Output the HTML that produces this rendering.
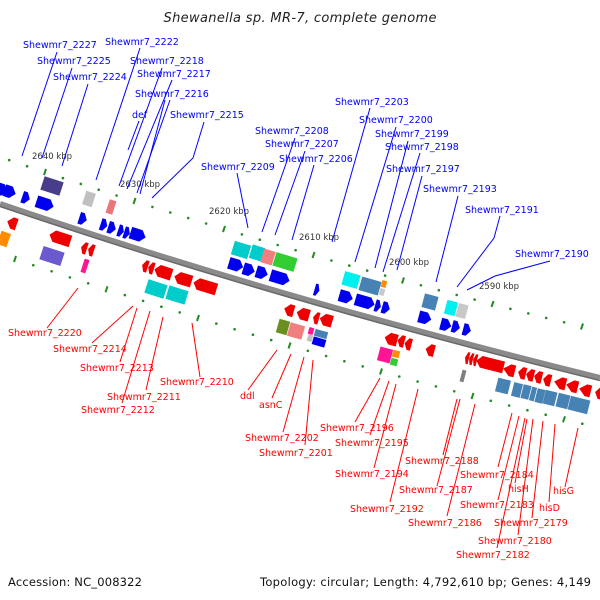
<!DOCTYPE html>
<html><head><meta charset="utf-8"><style>
html,body{margin:0;padding:0;background:#fff}
svg{display:block}
.lb{font-family:"DejaVu Sans","Liberation Sans",sans-serif;font-size:9.5px}
.b{fill:#0000ff}.r{fill:#ff0000}
.kb{font-family:"DejaVu Sans","Liberation Sans",sans-serif;font-size:8.5px;fill:#333}
.lnb{stroke:#0000ff;stroke-width:1;fill:none}
.lnr{stroke:#ff0000;stroke-width:1;fill:none}
.gb{fill:#0000ee}.gr{fill:#ee0000}
.d{fill:#228b22}.t{stroke:#228b22;stroke-width:2}
</style></head><body>
<svg width="600" height="600" viewBox="0 0 600 600" xmlns="http://www.w3.org/2000/svg">
<text x="300" y="22" text-anchor="middle" textLength="273" font-family="DejaVu Sans,Liberation Sans,sans-serif" font-style="italic" font-size="13" fill="#222">Shewanella sp. MR-7, complete genome</text>

<!-- backbone -->
<path d="M0,204 Q280,299 600,378" stroke="#8a8a8a" stroke-width="6" fill="none"/>
<path d="M0,206.5 Q280,301.5 600,380.5" stroke="#6a6a6a" stroke-width="1.5" fill="none"/>

<!-- above dots -->
<g class="d">
<circle cx="9.2" cy="160.1" r="1.3"/><circle cx="27.1" cy="166.2" r="1.3"/><circle cx="62.9" cy="178.1" r="1.3"/><circle cx="80.8" cy="183.9" r="1.3"/><circle cx="98.7" cy="189.7" r="1.3"/><circle cx="116.6" cy="195.5" r="1.3"/><circle cx="152.4" cy="206.9" r="1.3"/><circle cx="170.3" cy="212.5" r="1.3"/><circle cx="188.2" cy="218" r="1.3"/><circle cx="206.1" cy="223.5" r="1.3"/><circle cx="241.9" cy="234.4" r="1.3"/><circle cx="259.8" cy="239.7" r="1.3"/><circle cx="277.7" cy="245" r="1.3"/><circle cx="295.6" cy="250.2" r="1.3"/><circle cx="331.4" cy="260.5" r="1.3"/><circle cx="349.3" cy="265.6" r="1.3"/><circle cx="367.2" cy="270.6" r="1.3"/><circle cx="385.1" cy="275.6" r="1.3"/><circle cx="420.9" cy="285.3" r="1.3"/><circle cx="438.8" cy="290.2" r="1.3"/><circle cx="456.7" cy="294.9" r="1.3"/><circle cx="474.6" cy="299.6" r="1.3"/><circle cx="510.4" cy="308.8" r="1.3"/><circle cx="528.3" cy="313.4" r="1.3"/><circle cx="546.2" cy="317.9" r="1.3"/><circle cx="564.1" cy="322.3" r="1.3"/>
</g>
<g class="t">
<line x1="46" y1="169" x2="44" y2="175"/><line x1="135.5" y1="198" x2="133.5" y2="204"/><line x1="225" y1="226" x2="223" y2="232"/><line x1="314.5" y1="252" x2="312.5" y2="258"/><line x1="404" y1="277.5" x2="402" y2="283.5"/><line x1="493.5" y1="301" x2="491.5" y2="307"/><line x1="583" y1="323.5" x2="581" y2="329.5"/>
</g>
<!-- below dots -->
<g class="d">
<circle cx="33.3" cy="265.2" r="1.3"/><circle cx="51.6" cy="271.3" r="1.3"/><circle cx="69.9" cy="277.4" r="1.3"/><circle cx="88.2" cy="283.3" r="1.3"/><circle cx="124.8" cy="295.1" r="1.3"/><circle cx="143.1" cy="300.9" r="1.3"/><circle cx="161.4" cy="306.7" r="1.3"/><circle cx="179.7" cy="312.4" r="1.3"/><circle cx="216.3" cy="323.6" r="1.3"/><circle cx="234.6" cy="329.2" r="1.3"/><circle cx="252.9" cy="334.7" r="1.3"/><circle cx="271.2" cy="340.1" r="1.3"/><circle cx="307.8" cy="350.8" r="1.3"/><circle cx="326.1" cy="356" r="1.3"/><circle cx="344.4" cy="361.2" r="1.3"/><circle cx="362.7" cy="366.4" r="1.3"/><circle cx="399.3" cy="376.5" r="1.3"/><circle cx="417.6" cy="381.5" r="1.3"/><circle cx="435.9" cy="386.4" r="1.3"/><circle cx="454.2" cy="391.3" r="1.3"/><circle cx="490.8" cy="400.8" r="1.3"/><circle cx="509.1" cy="405.5" r="1.3"/><circle cx="527.4" cy="410.2" r="1.3"/><circle cx="545.7" cy="414.7" r="1.3"/><circle cx="582.3" cy="423.7" r="1.3"/>
</g>
<g class="t">
<line x1="16" y1="256" x2="14" y2="262"/><line x1="107.5" y1="286.3" x2="105.5" y2="292.3"/><line x1="199" y1="315" x2="197" y2="321"/><line x1="290.5" y1="342.5" x2="288.5" y2="348.5"/><line x1="382" y1="368.5" x2="380" y2="374.5"/><line x1="473.5" y1="393" x2="471.5" y2="399"/><line x1="565" y1="416.3" x2="563" y2="422.3"/>
</g>

<!-- kbp labels -->
<text class="kb" x="32" y="159">2640 kbp</text>
<text class="kb" x="120" y="187">2630 kbp</text>
<text class="kb" x="209" y="214">2620 kbp</text>
<text class="kb" x="299" y="240">2610 kbp</text>
<text class="kb" x="389" y="265">2600 kbp</text>
<text class="kb" x="479" y="289">2590 kbp</text>

<!-- blue forward arrows -->
<g class="gb">
<polygon transform="translate(3,190) rotate(19)" points="-5,-6 0,-6 5,0 0,6 -5,6"/>
<polygon transform="translate(10,192) rotate(19)" points="-6,-6 1,-6 6,0 1,6 -6,6"/>
<polygon transform="translate(26,198) rotate(19)" points="-4,-6 0,-6 4,0 0,6 -4,6"/>
<polygon transform="translate(45,204) rotate(18)" points="-9,-6 4,-6 9,0 4,6 -9,6"/>
<polygon transform="translate(83,219) rotate(18)" points="-4,-6 0,-6 4,0 0,6 -4,6"/>
<polygon transform="translate(104,225) rotate(18)" points="-3.5,-6 0,-6 3.5,0 0,6 -3.5,6"/>
<polygon transform="translate(112,228) rotate(18)" points="-4,-6 0,-6 4,0 0,6 -4,6"/>
<polygon transform="translate(121,231) rotate(18)" points="-3,-6 0,-6 3,0 0,6 -3,6"/>
<polygon transform="translate(127,233) rotate(18)" points="-3,-6 0,-6 3,0 0,6 -3,6"/>
<polygon transform="translate(138,235) rotate(18)" points="-8,-6 3,-6 8,0 3,6 -8,6"/>
<polygon transform="translate(236,265) rotate(17)" points="-7.5,-6 2.5,-6 7.5,0 2.5,6 -7.5,6"/>
<polygon transform="translate(249,270) rotate(17)" points="-6,-6 1,-6 6,0 1,6 -6,6"/>
<polygon transform="translate(262,273) rotate(17)" points="-6,-6 1,-6 6,0 1,6 -6,6"/>
<polygon transform="translate(280,278) rotate(17)" points="-10,-6 5,-6 10,0 5,6 -10,6"/>
<polygon transform="translate(317,290) rotate(16)" points="-2.5,-6 0,-6 2.5,0 0,6 -2.5,6"/>
<polygon transform="translate(346,297) rotate(16)" points="-7,-6 2,-6 7,0 2,6 -7,6"/>
<polygon transform="translate(365,302) rotate(16)" points="-10,-6 5,-6 10,0 5,6 -10,6"/>
<polygon transform="translate(378,306) rotate(16)" points="-3,-6 0,-6 3,0 0,6 -3,6"/>
<polygon transform="translate(386,308) rotate(16)" points="-4,-6 0,-6 4,0 0,6 -4,6"/>
<polygon transform="translate(425,318) rotate(15)" points="-6.5,-6 1.5,-6 6.5,0 1.5,6 -6.5,6"/>
<polygon transform="translate(446,325) rotate(15)" points="-5.5,-6 0.5,-6 5.5,0 0.5,6 -5.5,6"/>
<polygon transform="translate(456,327) rotate(15)" points="-4,-6 0,-6 4,0 0,6 -4,6"/>
<polygon transform="translate(467,330) rotate(15)" points="-4,-6 0,-6 4,0 0,6 -4,6"/>
</g>

<!-- top boxes -->
<g>
<rect transform="translate(52,186) rotate(18)" x="-10" y="-7" width="20" height="14" fill="#483d8b"/>
<rect transform="translate(89,199) rotate(18)" x="-5" y="-7" width="10" height="14" fill="#c0c0c0"/>
<rect transform="translate(111,207) rotate(18)" x="-3.5" y="-7" width="7" height="14" fill="#e9777a"/>
<rect transform="translate(241,250) rotate(17)" x="-8.5" y="-7" width="17" height="14" fill="#00cccc"/>
<rect transform="translate(257,253) rotate(17)" x="-6.5" y="-7" width="13" height="14" fill="#00cccc"/>
<rect transform="translate(268,257) rotate(17)" x="-6" y="-7" width="12" height="14" fill="#f08080"/>
<rect transform="translate(285,262) rotate(17)" x="-11" y="-7" width="22" height="14" fill="#32cd32"/>
<rect transform="translate(351,280) rotate(16)" x="-8" y="-7" width="16" height="14" fill="#00f0f0"/>
<rect transform="translate(370,286) rotate(16)" x="-10" y="-7" width="20" height="14" fill="#4682b4"/>
<rect transform="translate(384,284) rotate(16)" x="-2.5" y="-3.5" width="5" height="7" fill="#ff8c00"/>
<rect transform="translate(382,292) rotate(16)" x="-2.5" y="-3.5" width="5" height="7" fill="#c8c8c8"/>
<rect transform="translate(430,302) rotate(15)" x="-7" y="-7" width="14" height="14" fill="#4682b4"/>
<rect transform="translate(451,308) rotate(15)" x="-5.5" y="-7" width="11" height="14" fill="#00f0f0"/>
<rect transform="translate(462,311) rotate(15)" x="-5" y="-7" width="10" height="14" fill="#c8c8c8"/>
</g>

<!-- red reverse arrows -->
<g class="gr">
<polygon transform="translate(12,223) rotate(19)" points="5,-6 0,-6 -5,0 0,6 5,6"/>
<polygon transform="translate(60,238) rotate(18)" points="11,-6 -6,-6 -11,0 -6,6 11,6"/>
<polygon transform="translate(84,248) rotate(18)" points="3,-6 0,-6 -3,0 0,6 3,6"/>
<polygon transform="translate(91,250) rotate(18)" points="3,-6 0,-6 -3,0 0,6 3,6"/>
<polygon transform="translate(145,266) rotate(18)" points="3,-6 0,-6 -3,0 0,6 3,6"/>
<polygon transform="translate(151,268) rotate(18)" points="3,-6 0,-6 -3,0 0,6 3,6"/>
<polygon transform="translate(163,272) rotate(18)" points="9,-6 -4,-6 -9,0 -4,6 9,6"/>
<polygon transform="translate(183,279) rotate(17)" points="9,-6 -4,-6 -9,0 -4,6 9,6"/>
<polygon transform="translate(205,286) rotate(17)" points="12,-6 -7,-6 -12,0 -7,6 12,6"/>
<polygon transform="translate(289,310) rotate(16)" points="5,-6 0,-6 -5,0 0,6 5,6"/>
<polygon transform="translate(303,314) rotate(16)" points="6.5,-6 -1.5,-6 -6.5,0 -1.5,6 6.5,6"/>
<polygon transform="translate(316,318) rotate(16)" points="3,-6 0,-6 -3,0 0,6 3,6"/>
<polygon transform="translate(326,320) rotate(16)" points="6.5,-6 -1.5,-6 -6.5,0 -1.5,6 6.5,6"/>
<polygon transform="translate(391,339) rotate(15)" points="6.5,-6 -1.5,-6 -6.5,0 -1.5,6 6.5,6"/>
<polygon transform="translate(401,341) rotate(15)" points="3.5,-6 0,-6 -3.5,0 0,6 3.5,6"/>
<polygon transform="translate(408,344) rotate(15)" points="3.5,-6 0,-6 -3.5,0 0,6 3.5,6"/>
<polygon transform="translate(430,350) rotate(15)" points="4.5,-6 0,-6 -4.5,0 0,6 4.5,6"/>
<polygon transform="translate(467,358) rotate(14)" points="2,-6 0,-6 -2,0 0,6 2,6"/>
<polygon transform="translate(471,359) rotate(14)" points="2,-6 0,-6 -2,0 0,6 2,6"/>
<polygon transform="translate(475,360) rotate(14)" points="2,-6 0,-6 -2,0 0,6 2,6"/>
<polygon transform="translate(490,364) rotate(14)" points="14,-6 -9,-6 -14,0 -9,6 14,6"/>
<polygon transform="translate(509,370) rotate(14)" points="6,-6 1,-6 -6,0 1,6 6,6"/>
<polygon transform="translate(522,373) rotate(14)" points="4,-6 0,-6 -4,0 0,6 4,6"/>
<polygon transform="translate(530,375) rotate(14)" points="4,-6 0,-6 -4,0 0,6 4,6"/>
<polygon transform="translate(538,377) rotate(14)" points="4,-6 0,-6 -4,0 0,6 4,6"/>
<polygon transform="translate(547,380) rotate(14)" points="4,-6 0,-6 -4,0 0,6 4,6"/>
<polygon transform="translate(560,383) rotate(14)" points="6,-6 1,-6 -6,0 1,6 6,6"/>
<polygon transform="translate(572,386) rotate(14)" points="6,-6 1,-6 -6,0 1,6 6,6"/>
<polygon transform="translate(585,390) rotate(14)" points="6,-6 1,-6 -6,0 1,6 6,6"/>
<polygon transform="translate(599,393) rotate(14)" points="4,-6 0,-6 -4,0 0,6 4,6"/>
</g>

<!-- bottom boxes -->
<g>
<rect transform="translate(4,239) rotate(19)" x="-5" y="-7" width="10" height="14" fill="#ff8c00"/>
<rect transform="translate(52,256) rotate(18)" x="-11" y="-7" width="22" height="14" fill="#6a5acd"/>
<rect transform="translate(85,266) rotate(18)" x="-2.5" y="-7" width="5" height="14" fill="#ff1493"/>
<rect transform="translate(156,289) rotate(18)" x="-10" y="-7" width="20" height="14" fill="#00cccc"/>
<rect transform="translate(177,295) rotate(17)" x="-10" y="-7" width="20" height="14" fill="#00cccc"/>
<rect transform="translate(283,327) rotate(16)" x="-5.5" y="-7" width="11" height="14" fill="#6b8e23"/>
<rect transform="translate(296,331) rotate(16)" x="-7.5" y="-7" width="15" height="14" fill="#f08080"/>
<rect transform="translate(311,331) rotate(16)" x="-2.5" y="-3.5" width="5" height="7" fill="#ff1493"/>
<rect transform="translate(321,334) rotate(16)" x="-6.5" y="-3.5" width="13" height="7" fill="#4682b4"/>
<rect transform="translate(310,338) rotate(16)" x="-2.5" y="-3.5" width="5" height="7" fill="#c0c0c0"/>
<rect transform="translate(319,342) rotate(16)" x="-6.5" y="-4" width="13" height="8" fill="#0000ee"/>
<rect transform="translate(385,355) rotate(15)" x="-6.5" y="-7" width="13" height="14" fill="#ff1493"/>
<rect transform="translate(396,354) rotate(15)" x="-3.5" y="-3.5" width="7" height="7" fill="#ff8c00"/>
<rect transform="translate(394,362) rotate(15)" x="-3.5" y="-3.5" width="7" height="7" fill="#32cd32"/>
<rect transform="translate(463,376) rotate(15)" x="-2" y="-6" width="4" height="12" fill="#808080"/>
<rect transform="translate(503,386) rotate(14)" x="-6.5" y="-7" width="13" height="14" fill="#4682b4"/>
<rect transform="translate(517,390) rotate(14)" x="-4.5" y="-7" width="9" height="14" fill="#4682b4"/>
<rect transform="translate(526,392) rotate(14)" x="-4" y="-7" width="8" height="14" fill="#4682b4"/>
<rect transform="translate(533,394) rotate(14)" x="-2.5" y="-7" width="5" height="14" fill="#4682b4"/>
<rect transform="translate(540,396) rotate(14)" x="-4" y="-7" width="8" height="14" fill="#4682b4"/>
<rect transform="translate(550,398) rotate(14)" x="-6" y="-7" width="12" height="14" fill="#4682b4"/>
<rect transform="translate(563,401) rotate(14)" x="-6" y="-7" width="12" height="14" fill="#4682b4"/>
<rect transform="translate(579,405) rotate(14)" x="-10" y="-7" width="20" height="14" fill="#4682b4"/>
</g>

<!-- blue label lines -->
<g class="lnb">
<line x1="57" y1="52" x2="22" y2="156"/>
<line x1="72" y1="68" x2="42" y2="158"/>
<line x1="88" y1="84" x2="62" y2="166"/>
<line x1="140" y1="48" x2="96" y2="180"/>
<line x1="162" y1="68" x2="119" y2="186"/>
<line x1="172" y1="80" x2="127" y2="189"/>
<line x1="170" y1="100" x2="137" y2="193"/>
<line x1="139" y1="121" x2="128" y2="150"/>
<line x1="165" y1="100" x2="140" y2="194"/>
<polyline points="204,122 193,158 152,198"/>
<line x1="237" y1="173" x2="248" y2="228"/>
<line x1="295" y1="138" x2="262" y2="232"/>
<line x1="305" y1="151" x2="275" y2="235"/>
<line x1="314" y1="165" x2="292" y2="240"/>
<line x1="370" y1="108" x2="332" y2="242"/>
<line x1="396" y1="127" x2="355" y2="262"/>
<line x1="408" y1="141" x2="375" y2="268"/>
<line x1="420" y1="153" x2="383" y2="272"/>
<line x1="422" y1="176" x2="397" y2="270"/>
<line x1="458" y1="196" x2="436" y2="282"/>
<polyline points="500,216 494,238 457,287"/>
<polyline points="550,261 495,276 467,290"/>
</g>
<g class="lb b">
<text x="23" y="48">Shewmr7_2227</text>
<text x="37" y="64">Shewmr7_2225</text>
<text x="53" y="80">Shewmr7_2224</text>
<text x="105" y="45">Shewmr7_2222</text>
<text x="130" y="64">Shewmr7_2218</text>
<text x="137" y="77">Shewmr7_2217</text>
<text x="135" y="97">Shewmr7_2216</text>
<text x="132" y="118">def</text>
<text x="170" y="118">Shewmr7_2215</text>
<text x="201" y="170">Shewmr7_2209</text>
<text x="255" y="134">Shewmr7_2208</text>
<text x="265" y="147">Shewmr7_2207</text>
<text x="279" y="162">Shewmr7_2206</text>
<text x="335" y="105">Shewmr7_2203</text>
<text x="359" y="123">Shewmr7_2200</text>
<text x="375" y="137">Shewmr7_2199</text>
<text x="385" y="150">Shewmr7_2198</text>
<text x="386" y="172">Shewmr7_2197</text>
<text x="423" y="192">Shewmr7_2193</text>
<text x="465" y="213">Shewmr7_2191</text>
<text x="515" y="257">Shewmr7_2190</text>
</g>

<!-- red label lines -->
<g class="lnr">
<line x1="78" y1="288" x2="47" y2="328"/>
<line x1="133" y1="306" x2="92" y2="343"/>
<line x1="137" y1="308" x2="120" y2="362"/>
<line x1="163" y1="317" x2="146" y2="390"/>
<line x1="150" y1="311" x2="122" y2="403"/>
<line x1="192" y1="323" x2="200" y2="377"/>
<line x1="277" y1="350" x2="248" y2="390"/>
<line x1="291" y1="354" x2="272" y2="398"/>
<line x1="304" y1="357" x2="283" y2="432"/>
<line x1="313" y1="360" x2="305" y2="445"/>
<line x1="380" y1="378" x2="355" y2="422"/>
<line x1="389" y1="381" x2="370" y2="435"/>
<line x1="396" y1="384" x2="374" y2="468"/>
<line x1="418" y1="389" x2="390" y2="502"/>
<line x1="457" y1="399" x2="443" y2="455"/>
<line x1="460" y1="399" x2="437" y2="486"/>
<line x1="475" y1="404" x2="447" y2="516"/>
<line x1="512" y1="413" x2="498" y2="467"/>
<line x1="527" y1="419" x2="515" y2="483"/>
<line x1="519" y1="416" x2="498" y2="500"/>
<line x1="543" y1="421" x2="532" y2="518"/>
<line x1="555" y1="424" x2="549" y2="502"/>
<line x1="533" y1="419" x2="518" y2="535"/>
<line x1="578" y1="428" x2="565" y2="487"/>
<line x1="525" y1="418" x2="497" y2="548"/>
</g>
<g class="lb r">
<text x="8" y="336">Shewmr7_2220</text>
<text x="53" y="352">Shewmr7_2214</text>
<text x="80" y="371">Shewmr7_2213</text>
<text x="107" y="400">Shewmr7_2211</text>
<text x="81" y="413">Shewmr7_2212</text>
<text x="160" y="385">Shewmr7_2210</text>
<text x="240" y="399">ddl</text>
<text x="259" y="408">asnC</text>
<text x="245" y="441">Shewmr7_2202</text>
<text x="259" y="456">Shewmr7_2201</text>
<text x="320" y="431">Shewmr7_2196</text>
<text x="335" y="446">Shewmr7_2195</text>
<text x="335" y="477">Shewmr7_2194</text>
<text x="350" y="512">Shewmr7_2192</text>
<text x="405" y="464">Shewmr7_2188</text>
<text x="399" y="493">Shewmr7_2187</text>
<text x="408" y="526">Shewmr7_2186</text>
<text x="460" y="478">Shewmr7_2184</text>
<text x="508" y="492">hisH</text>
<text x="460" y="508">Shewmr7_2183</text>
<text x="539" y="511">hisD</text>
<text x="553" y="494">hisG</text>
<text x="494" y="526">Shewmr7_2179</text>
<text x="478" y="544">Shewmr7_2180</text>
<text x="456" y="558">Shewmr7_2182</text>
</g>

<text x="8" y="586" textLength="134" font-family="DejaVu Sans,Liberation Sans,sans-serif" font-size="11.5" fill="#111">Accession: NC_008322</text>
<text x="591" y="586" text-anchor="end" textLength="331" font-family="DejaVu Sans,Liberation Sans,sans-serif" font-size="11.5" fill="#111">Topology: circular; Length: 4,792,610 bp; Genes: 4,149</text>
</svg>
</body></html>
